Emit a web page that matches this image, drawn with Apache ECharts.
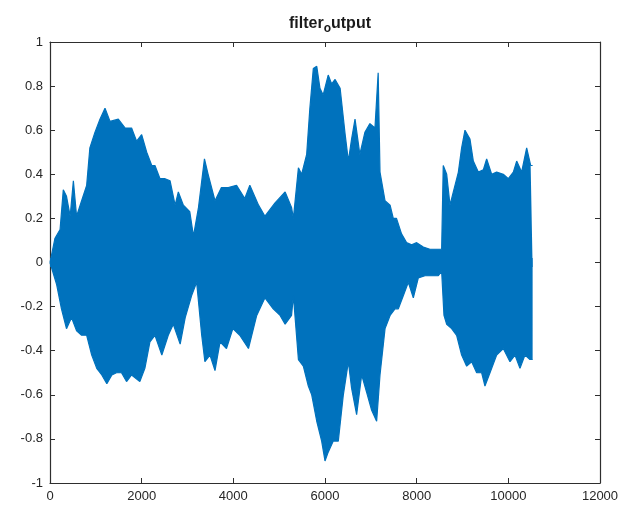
<!DOCTYPE html>
<html>
<head>
<meta charset="utf-8">
<script src="https://cdn.jsdelivr.net/npm/echarts@6/dist/echarts.min.js"></script>
<style>
  html, body { margin: 0; padding: 0; background: #fff; }
  #chart { width: 632px; height: 516px; }
</style>
</head>
<body>
<div id="chart"></div>
<script>
// envelope of the waveform: [sample, amplitude]
var upperEnv = [
  [0,0],[109,0.11],[220,0.15],[290,0.33],[360,0.30],[440,0.21],[510,0.37],[580,0.21],
  [690,0.28],[800,0.35],[870,0.52],[980,0.59],[1090,0.65],[1200,0.70],[1310,0.64],
  [1490,0.65],[1640,0.61],[1780,0.61],[1890,0.55],[2000,0.58],[2110,0.50],[2220,0.44],
  [2290,0.44],[2400,0.38],[2510,0.38],[2620,0.37],[2730,0.26],[2800,0.32],[2910,0.26],
  [3050,0.23],[3130,0.12],[3240,0.25],[3370,0.47],[3450,0.40],[3600,0.28],[3740,0.34],
  [3890,0.34],[4070,0.35],[4250,0.29],[4360,0.35],[4550,0.26],[4690,0.21],[4910,0.27],
  [5130,0.32],[5270,0.25],[5310,0.20],[5420,0.43],[5490,0.40],[5600,0.49],[5670,0.70],
  [5745,0.88],[5820,0.89],[5890,0.79],[5960,0.76],[6070,0.85],[6145,0.81],[6220,0.83],
  [6330,0.79],[6440,0.58],[6510,0.46],[6580,0.56],[6655,0.65],[6760,0.49],[6870,0.59],
  [6980,0.63],[7090,0.61],[7160,0.86],[7200,0.41],[7310,0.28],[7420,0.26],[7490,0.20],
  [7560,0.20],[7670,0.13],[7780,0.09],[7890,0.08],[8000,0.09],[8145,0.07],[8290,0.06],
  [8436,0.06],[8545,0.06],[8580,0.44],[8655,0.40],[8727,0.26],[8800,0.32],[8910,0.41],
  [8981,0.52],[9054,0.60],[9163,0.56],[9236,0.46],[9345,0.41],[9454,0.42],[9527,0.47],
  [9636,0.40],[9745,0.41],[9890,0.40],[10000,0.38],[10109,0.41],[10182,0.46],[10290,0.41],
  [10400,0.52],[10487,0.44],[10530,0.44]
];
var lowerEnv = [
  [0,0],[145,-0.10],[250,-0.21],[360,-0.30],[470,-0.25],[580,-0.31],[690,-0.33],[800,-0.33],
  [910,-0.42],[1020,-0.48],[1130,-0.51],[1240,-0.55],[1350,-0.51],[1450,-0.50],[1560,-0.50],
  [1670,-0.54],[1780,-0.51],[1960,-0.54],[2070,-0.48],[2180,-0.36],[2290,-0.33],[2440,-0.42],
  [2580,-0.33],[2690,-0.28],[2840,-0.37],[2950,-0.25],[3090,-0.15],[3200,-0.09],[3310,-0.33],
  [3380,-0.45],[3490,-0.42],[3600,-0.49],[3710,-0.36],[3850,-0.39],[3990,-0.30],[4140,-0.33],
  [4330,-0.39],[4510,-0.24],[4690,-0.16],[4870,-0.21],[5020,-0.24],[5130,-0.28],[5270,-0.24],
  [5310,-0.15],[5420,-0.44],[5527,-0.47],[5636,-0.56],[5710,-0.60],[5820,-0.72],[5927,-0.81],
  [6000,-0.90],[6070,-0.86],[6180,-0.81],[6290,-0.81],[6400,-0.60],[6510,-0.45],[6580,-0.57],
  [6690,-0.69],[6800,-0.51],[6910,-0.59],[7018,-0.67],[7127,-0.72],[7200,-0.51],[7310,-0.30],
  [7420,-0.24],[7527,-0.21],[7600,-0.21],[7710,-0.15],[7818,-0.09],[7927,-0.16],[8036,-0.07],
  [8181,-0.06],[8327,-0.06],[8472,-0.06],[8545,-0.04],[8596,-0.24],[8655,-0.28],[8763,-0.30],
  [8872,-0.33],[8981,-0.42],[9091,-0.47],[9200,-0.45],[9309,-0.50],[9418,-0.50],[9490,-0.56],
  [9600,-0.50],[9745,-0.42],[9890,-0.39],[10036,-0.45],[10145,-0.42],[10254,-0.48],[10363,-0.42],
  [10472,-0.44],[10530,-0.44]
];
var xTicks = [0, 12000, 2000];   // min, max, step
var yTicks = [-1, 1, 0.2];

var lineColor = '#0072bd';
var axisColor = '#2e2e2e';
var fontFam = 'Liberation Sans, Arial, sans-serif';
var labelFont = { color: '#262626', fontSize: 13, fontFamily: fontFam };

var myChart = echarts.init(document.getElementById('chart'));

function boxAxis(pos, ticks, showLabel) {
  return {
    type: 'value',
    position: pos,
    min: ticks[0], max: ticks[1], interval: ticks[2],
    splitLine: { show: false },
    axisLine: { show: true, onZero: false, lineStyle: { color: axisColor, width: 1.2 } },
    axisTick: { show: true, inside: true, length: 5, lineStyle: { color: axisColor } },
    axisLabel: Object.assign({
      show: showLabel,
      margin: 7,
      formatter: function (v) { return String(Math.round(v * 10) / 10); }
    }, labelFont)
  };
}

var option = {
  backgroundColor: '#ffffff',
  animation: false,
  title: {
    text: '{b|filter}{s|o}{b|utput}',
    left: 325,
    textAlign: 'center',
    top: 8,
    textStyle: {
      rich: {
        b: { fontSize: 16, fontWeight: 'bold', color: '#1a1a1a', fontFamily: fontFam },
        s: { fontSize: 12, fontWeight: 'bold', color: '#1a1a1a', fontFamily: fontFam, padding: [10, 0, 0, 0] }
      }
    }
  },
  grid: { left: 50, right: 32, top: 42, bottom: 33 },
  xAxis: [boxAxis('bottom', xTicks, true), boxAxis('top', xTicks, false)],
  yAxis: [boxAxis('left', yTicks, true), boxAxis('right', yTicks, false)],
  series: [
    {
      name: 'upper',
      type: 'line',
      data: upperEnv,
      symbol: 'none',
      lineStyle: { color: lineColor, width: 1.2 },
      // overlap slightly past zero so no seam shows between the halves
      areaStyle: { color: lineColor, opacity: 1, origin: -0.02 },
      z: 2
    },
    {
      name: 'lower',
      type: 'line',
      data: lowerEnv,
      symbol: 'none',
      lineStyle: { color: lineColor, width: 1.2 },
      areaStyle: { color: lineColor, opacity: 1, origin: 0.02 },
      z: 2
    }
  ]
};

myChart.setOption(option);
</script>
</body>
</html>
